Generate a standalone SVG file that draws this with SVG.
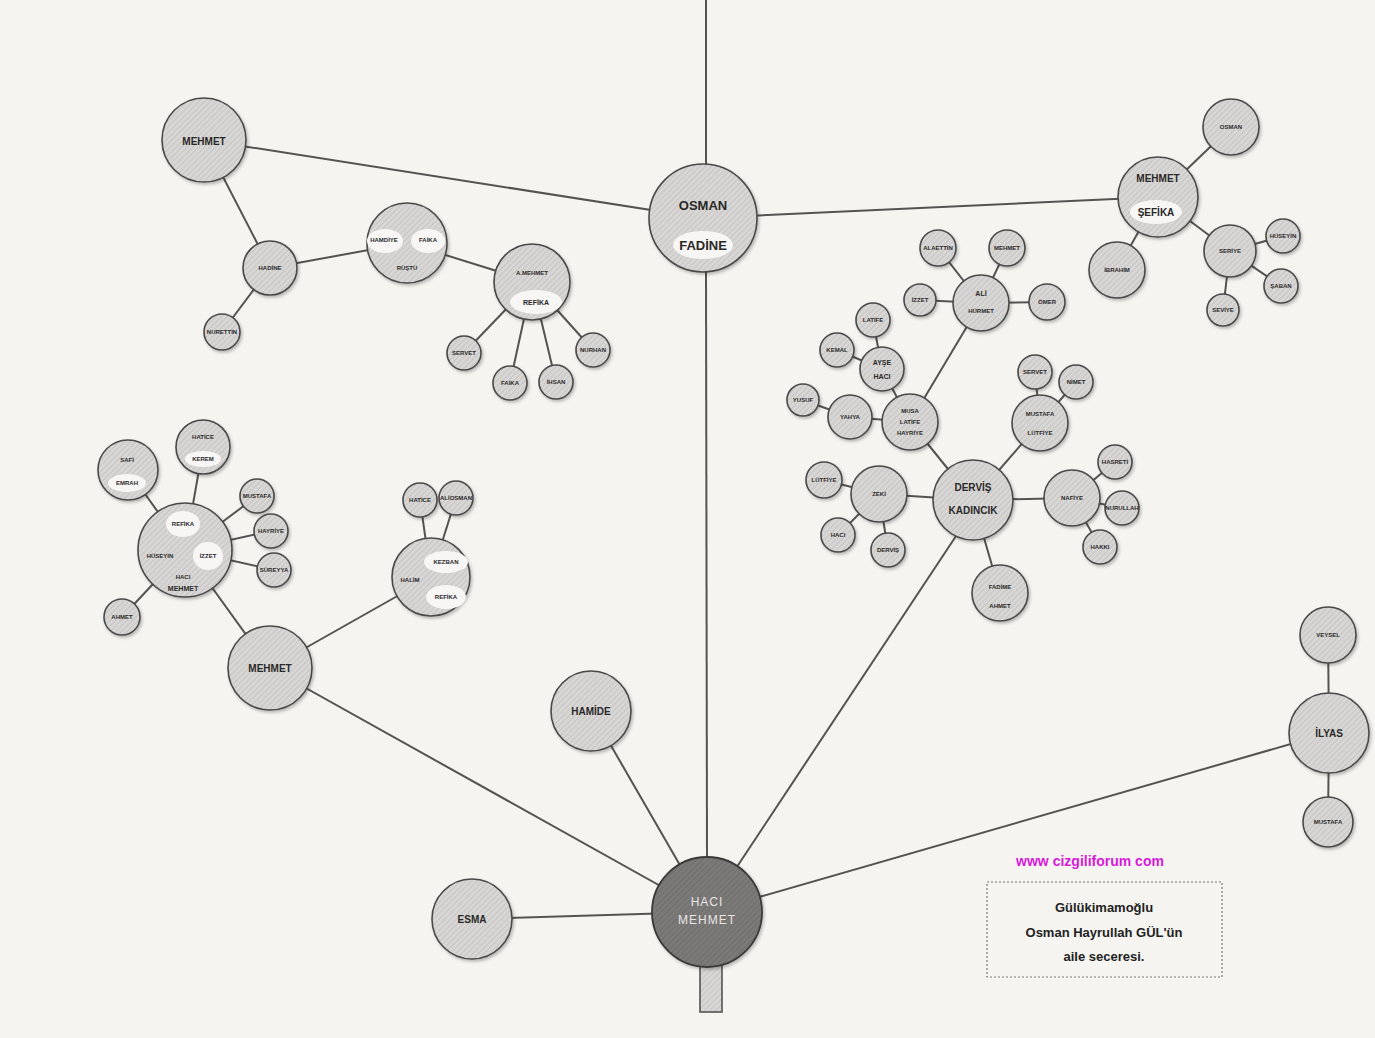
<svg xmlns="http://www.w3.org/2000/svg" width="1375" height="1038" viewBox="0 0 1375 1038">
<defs>
<pattern id="hatch" width="4" height="4" patternUnits="userSpaceOnUse" patternTransform="rotate(45)">
<rect width="4" height="4" fill="#d8d6d4"/>
<line x1="0" y1="0" x2="0" y2="4" stroke="#c2c0be" stroke-width="1.5"/>
</pattern>
<pattern id="dark" width="4" height="4" patternUnits="userSpaceOnUse" patternTransform="rotate(45)">
<rect width="4" height="4" fill="#7c7a79"/>
<line x1="0" y1="0" x2="0" y2="4" stroke="#6a6867" stroke-width="1.5"/>
</pattern>
<filter id="sh" x="-20%" y="-20%" width="140%" height="140%">
<feDropShadow dx="1.5" dy="2" stdDeviation="1.5" flood-color="#000" flood-opacity="0.25"/>
</filter>
</defs>
<style>
.c{fill:url(#hatch);stroke:#4a4848;stroke-width:1.6;filter:url(#sh)}
.d{fill:url(#dark);stroke:#3a3838;stroke-width:1.8;filter:url(#sh)}
.w{fill:#f7f6f4;stroke:none}
.e{stroke:#555352;stroke-width:2;fill:none}
text{font-family:"Liberation Sans",Arial,sans-serif;font-weight:bold;fill:#2a2828;text-anchor:middle;dominant-baseline:central}
.L{font-size:13px}
.M{font-size:10px}
.S{font-size:7px}
.X{font-size:6px}
.inv{fill:#e8e6e4;font-size:12px;font-weight:normal;letter-spacing:1px}
.t{font-size:13px;fill:#222}
.url{font-size:14px;fill:#d81ad8}
</style>
<rect width="1375" height="1038" fill="#f5f4f1"/>
<g id="connectors">
<line class="e" x1="706" y1="0" x2="706" y2="170"/>
<line class="e" x1="706" y1="270" x2="707" y2="860"/>
<line class="e" x1="204" y1="140" x2="702" y2="218"/>
<line class="e" x1="1158" y1="197" x2="702" y2="218"/>
<line class="e" x1="204" y1="140" x2="270" y2="268"/>
<line class="e" x1="270" y1="268" x2="222" y2="332"/>
<line class="e" x1="270" y1="268" x2="407" y2="243"/>
<line class="e" x1="407" y1="243" x2="532" y2="282"/>
<line class="e" x1="532" y1="282" x2="464" y2="353"/>
<line class="e" x1="532" y1="282" x2="510" y2="383"/>
<line class="e" x1="532" y1="282" x2="556" y2="382"/>
<line class="e" x1="532" y1="282" x2="593" y2="350"/>
<line class="e" x1="1158" y1="197" x2="1231" y2="127"/>
<line class="e" x1="1158" y1="197" x2="1117" y2="270"/>
<line class="e" x1="1158" y1="197" x2="1230" y2="251"/>
<line class="e" x1="1230" y1="251" x2="1283" y2="236"/>
<line class="e" x1="1230" y1="251" x2="1281" y2="286"/>
<line class="e" x1="1230" y1="251" x2="1223" y2="310"/>
<line class="e" x1="981" y1="303" x2="938" y2="248"/>
<line class="e" x1="981" y1="303" x2="1007" y2="248"/>
<line class="e" x1="981" y1="303" x2="920" y2="300"/>
<line class="e" x1="981" y1="303" x2="1047" y2="302"/>
<line class="e" x1="981" y1="303" x2="910" y2="422"/>
<line class="e" x1="910" y1="422" x2="882" y2="369"/>
<line class="e" x1="882" y1="369" x2="873" y2="320"/>
<line class="e" x1="882" y1="369" x2="837" y2="350"/>
<line class="e" x1="910" y1="422" x2="850" y2="417"/>
<line class="e" x1="850" y1="417" x2="803" y2="400"/>
<line class="e" x1="910" y1="422" x2="973" y2="500"/>
<line class="e" x1="1040" y1="423" x2="1035" y2="372"/>
<line class="e" x1="1040" y1="423" x2="1076" y2="382"/>
<line class="e" x1="1040" y1="423" x2="973" y2="500"/>
<line class="e" x1="973" y1="500" x2="879" y2="494"/>
<line class="e" x1="879" y1="494" x2="824" y2="480"/>
<line class="e" x1="879" y1="494" x2="838" y2="535"/>
<line class="e" x1="879" y1="494" x2="888" y2="550"/>
<line class="e" x1="973" y1="500" x2="1072" y2="498"/>
<line class="e" x1="1072" y1="498" x2="1115" y2="462"/>
<line class="e" x1="1072" y1="498" x2="1122" y2="508"/>
<line class="e" x1="1072" y1="498" x2="1100" y2="547"/>
<line class="e" x1="973" y1="500" x2="1000" y2="593"/>
<line class="e" x1="960" y1="530" x2="707" y2="912"/>
<line class="e" x1="1329" y1="733" x2="707" y2="912"/>
<line class="e" x1="1329" y1="733" x2="1328" y2="635"/>
<line class="e" x1="1329" y1="733" x2="1328" y2="822"/>
<line class="e" x1="591" y1="711" x2="707" y2="912"/>
<line class="e" x1="472" y1="919" x2="707" y2="912"/>
<line class="e" x1="270" y1="668" x2="707" y2="912"/>
<line class="e" x1="270" y1="668" x2="185" y2="550"/>
<line class="e" x1="270" y1="668" x2="431" y2="577"/>
<line class="e" x1="185" y1="550" x2="128" y2="470"/>
<line class="e" x1="185" y1="550" x2="203" y2="447"/>
<line class="e" x1="185" y1="550" x2="257" y2="496"/>
<line class="e" x1="185" y1="550" x2="271" y2="531"/>
<line class="e" x1="185" y1="550" x2="274" y2="570"/>
<line class="e" x1="185" y1="550" x2="122" y2="617"/>
<line class="e" x1="431" y1="577" x2="420" y2="500"/>
<line class="e" x1="431" y1="577" x2="456" y2="498"/>
</g>
<g id="trunk">
<rect x="700" y="960" width="22" height="52" fill="url(#hatch)" stroke="#555352" stroke-width="1.6"/>
</g>
<g id="n-osman"><circle class="c" cx="703" cy="218" r="54"/><ellipse class="w" cx="703" cy="245" rx="30" ry="14"/><text class="L" x="703" y="205">OSMAN</text><text class="L" x="703" y="245">FADİNE</text></g>
<g id="n-hacimehmet"><circle class="d" cx="707" cy="912" r="55"/><text class="inv" x="707" y="902">HACI</text><text class="inv" x="707" y="920">MEHMET</text></g>
<g id="n-mehmet1"><circle class="c" cx="204" cy="140" r="42"/><text class="M" x="204" y="141">MEHMET</text></g>
<g id="n-hadine"><circle class="c" cx="270" cy="268" r="27"/><text class="X" x="270" y="268">HADİNE</text></g>
<g id="n-nurettin"><circle class="c" cx="222" cy="332" r="18"/><text class="X" x="222" y="332">NURETTİN</text></g>
<g id="n-hamdiye"><circle class="c" cx="407" cy="243" r="40"/><ellipse class="w" cx="385" cy="241" rx="18" ry="12"/><ellipse class="w" cx="428" cy="241" rx="17" ry="12"/><text class="X" x="384" y="240">HAMDİYE</text><text class="X" x="428" y="240">FAİKA</text><text class="X" x="407" y="268">RÜŞTÜ</text></g>
<g id="n-amehmet"><circle class="c" cx="532" cy="282" r="38"/><ellipse class="w" cx="536" cy="302" rx="26" ry="12"/><text class="X" x="532" y="273">A.MEHMET</text><text class="S" x="536" y="302">REFİKA</text></g>
<g id="n-servet1"><circle class="c" cx="464" cy="353" r="17"/><text class="X" x="464" y="353">SERVET</text></g>
<g id="n-faika"><circle class="c" cx="510" cy="383" r="17"/><text class="X" x="510" y="383">FAİKA</text></g>
<g id="n-ihsan"><circle class="c" cx="556" cy="382" r="17"/><text class="X" x="556" y="382">İHSAN</text></g>
<g id="n-nurhan"><circle class="c" cx="593" cy="350" r="17"/><text class="X" x="593" y="350">NURHAN</text></g>
<g id="n-mehmetsefika"><circle class="c" cx="1158" cy="197" r="40"/><ellipse class="w" cx="1156" cy="212" rx="26" ry="12"/><text class="M" x="1158" y="178">MEHMET</text><text class="M" x="1156" y="212">ŞEFİKA</text></g>
<g id="n-osman2"><circle class="c" cx="1231" cy="127" r="28"/><text class="X" x="1231" y="127">OSMAN</text></g>
<g id="n-ibrahim"><circle class="c" cx="1117" cy="270" r="28"/><text class="X" x="1117" y="270">İBRAHİM</text></g>
<g id="n-seriye"><circle class="c" cx="1230" cy="251" r="26"/><text class="X" x="1230" y="251">SERİYE</text></g>
<g id="n-huseyin1"><circle class="c" cx="1283" cy="236" r="17"/><text class="X" x="1283" y="236">HÜSEYİN</text></g>
<g id="n-saban"><circle class="c" cx="1281" cy="286" r="17"/><text class="X" x="1281" y="286">ŞABAN</text></g>
<g id="n-seviye"><circle class="c" cx="1223" cy="310" r="16"/><text class="X" x="1223" y="310">SEVİYE</text></g>
<g id="n-ali"><circle class="c" cx="981" cy="303" r="28"/><text class="S" x="981" y="293">ALİ</text><text class="X" x="981" y="311">HÜRMET</text></g>
<g id="n-alaettin"><circle class="c" cx="938" cy="248" r="18"/><text class="X" x="938" y="248">ALAETTİN</text></g>
<g id="n-mehmet2"><circle class="c" cx="1007" cy="248" r="18"/><text class="X" x="1007" y="248">MEHMET</text></g>
<g id="n-izzet1"><circle class="c" cx="920" cy="300" r="16"/><text class="X" x="920" y="300">İZZET</text></g>
<g id="n-omer"><circle class="c" cx="1047" cy="302" r="18"/><text class="X" x="1047" y="302">ÖMER</text></g>
<g id="n-ayse"><circle class="c" cx="882" cy="369" r="22"/><text class="S" x="882" y="362">AYŞE</text><text class="S" x="882" y="376">HACI</text></g>
<g id="n-latife"><circle class="c" cx="873" cy="320" r="17"/><text class="X" x="873" y="320">LATİFE</text></g>
<g id="n-kemal"><circle class="c" cx="837" cy="350" r="17"/><text class="X" x="837" y="350">KEMAL</text></g>
<g id="n-musa"><circle class="c" cx="910" cy="422" r="28"/><text class="X" x="910" y="411">MUSA</text><text class="X" x="910" y="422">LATİFE</text><text class="X" x="910" y="433">HAYRİYE</text></g>
<g id="n-yahya"><circle class="c" cx="850" cy="417" r="22"/><text class="X" x="850" y="417">YAHYA</text></g>
<g id="n-yusuf"><circle class="c" cx="803" cy="400" r="16"/><text class="X" x="803" y="400">YUSUF</text></g>
<g id="n-mustafa1"><circle class="c" cx="1040" cy="423" r="28"/><text class="X" x="1040" y="414">MUSTAFA</text><text class="X" x="1040" y="433">LÜTFİYE</text></g>
<g id="n-servet2"><circle class="c" cx="1035" cy="372" r="17"/><text class="X" x="1035" y="372">SERVET</text></g>
<g id="n-nimet"><circle class="c" cx="1076" cy="382" r="17"/><text class="X" x="1076" y="382">NİMET</text></g>
<g id="n-dervis"><circle class="c" cx="973" cy="500" r="40"/><text class="M" x="973" y="487">DERVİŞ</text><text class="M" x="973" y="510">KADINCIK</text></g>
<g id="n-zeki"><circle class="c" cx="879" cy="494" r="28"/><text class="X" x="879" y="494">ZEKİ</text></g>
<g id="n-lutfiye"><circle class="c" cx="824" cy="480" r="18"/><text class="X" x="824" y="480">LÜTFİYE</text></g>
<g id="n-haci"><circle class="c" cx="838" cy="535" r="17"/><text class="X" x="838" y="535">HACI</text></g>
<g id="n-dervis2"><circle class="c" cx="888" cy="550" r="17"/><text class="X" x="888" y="550">DERVİŞ</text></g>
<g id="n-nafiye"><circle class="c" cx="1072" cy="498" r="28"/><text class="X" x="1072" y="498">NAFİYE</text></g>
<g id="n-hasreti"><circle class="c" cx="1115" cy="462" r="17"/><text class="X" x="1115" y="462">HASRETİ</text></g>
<g id="n-nurullah"><circle class="c" cx="1122" cy="508" r="17"/><text class="X" x="1122" y="508">NURULLAH</text></g>
<g id="n-hakki"><circle class="c" cx="1100" cy="547" r="17"/><text class="X" x="1100" y="547">HAKKI</text></g>
<g id="n-fadime"><circle class="c" cx="1000" cy="593" r="28"/><text class="X" x="1000" y="587">FADİME</text><text class="X" x="1000" y="606">AHMET</text></g>
<g id="n-ilyas"><circle class="c" cx="1329" cy="733" r="40"/><text class="M" x="1329" y="733">İLYAS</text></g>
<g id="n-veysel"><circle class="c" cx="1328" cy="635" r="28"/><text class="X" x="1328" y="635">VEYSEL</text></g>
<g id="n-mustafa2"><circle class="c" cx="1328" cy="822" r="25"/><text class="X" x="1328" y="822">MUSTAFA</text></g>
<g id="n-hamide"><circle class="c" cx="591" cy="711" r="40"/><text class="M" x="591" y="711">HAMİDE</text></g>
<g id="n-esma"><circle class="c" cx="472" cy="919" r="40"/><text class="M" x="472" y="919">ESMA</text></g>
<g id="n-mehmet3"><circle class="c" cx="270" cy="668" r="42"/><text class="M" x="270" y="668">MEHMET</text></g>
<g id="n-hacimehmet2"><circle class="c" cx="185" cy="550" r="47"/><ellipse class="w" cx="183" cy="524" rx="17" ry="13"/><ellipse class="w" cx="208" cy="556" rx="15" ry="14"/><text class="X" x="183" y="524">REFİKA</text><text class="X" x="160" y="556">HÜSEYİN</text><text class="X" x="208" y="556">İZZET</text><text class="X" x="183" y="577">HACI</text><text class="S" x="183" y="588">MEHMET</text></g>
<g id="n-safi"><circle class="c" cx="128" cy="470" r="30"/><ellipse class="w" cx="127" cy="483" rx="19" ry="9"/><text class="X" x="127" y="460">SAFİ</text><text class="X" x="127" y="483">EMRAH</text></g>
<g id="n-hatice1"><circle class="c" cx="203" cy="447" r="27"/><ellipse class="w" cx="203" cy="459" rx="18" ry="8"/><text class="X" x="203" y="437">HATİCE</text><text class="X" x="203" y="459">KEREM</text></g>
<g id="n-mustafa3"><circle class="c" cx="257" cy="496" r="17"/><text class="X" x="257" y="496">MUSTAFA</text></g>
<g id="n-hayriye"><circle class="c" cx="271" cy="531" r="17"/><text class="X" x="271" y="531">HAYRİYE</text></g>
<g id="n-sureyya"><circle class="c" cx="274" cy="570" r="17"/><text class="X" x="274" y="570">SÜREYYA</text></g>
<g id="n-ahmet"><circle class="c" cx="122" cy="617" r="18"/><text class="X" x="122" y="617">AHMET</text></g>
<g id="n-kezban"><circle class="c" cx="431" cy="577" r="39"/><ellipse class="w" cx="446" cy="562" rx="22" ry="11"/><ellipse class="w" cx="446" cy="597" rx="20" ry="12"/><text class="X" x="446" y="562">KEZBAN</text><text class="X" x="410" y="580">HALİM</text><text class="X" x="446" y="597">REFİKA</text></g>
<g id="n-hatice2"><circle class="c" cx="420" cy="500" r="17"/><text class="X" x="420" y="500">HATİCE</text></g>
<g id="n-aliosman"><circle class="c" cx="456" cy="498" r="17"/><text class="X" x="456" y="498">ALİOSMAN</text></g>
<g id="caption">
<text class="url" x="1090" y="861">www cizgiliforum com</text>
<rect x="987" y="882" width="235" height="95" fill="none" stroke="#777" stroke-width="1.2" stroke-dasharray="2 2"/>
<text class="t" x="1104" y="907">Gülükimamoğlu</text>
<text class="t" x="1104" y="932">Osman Hayrullah GÜL'ün</text>
<text class="t" x="1104" y="956">aile seceresi.</text>
</g>
</svg>
